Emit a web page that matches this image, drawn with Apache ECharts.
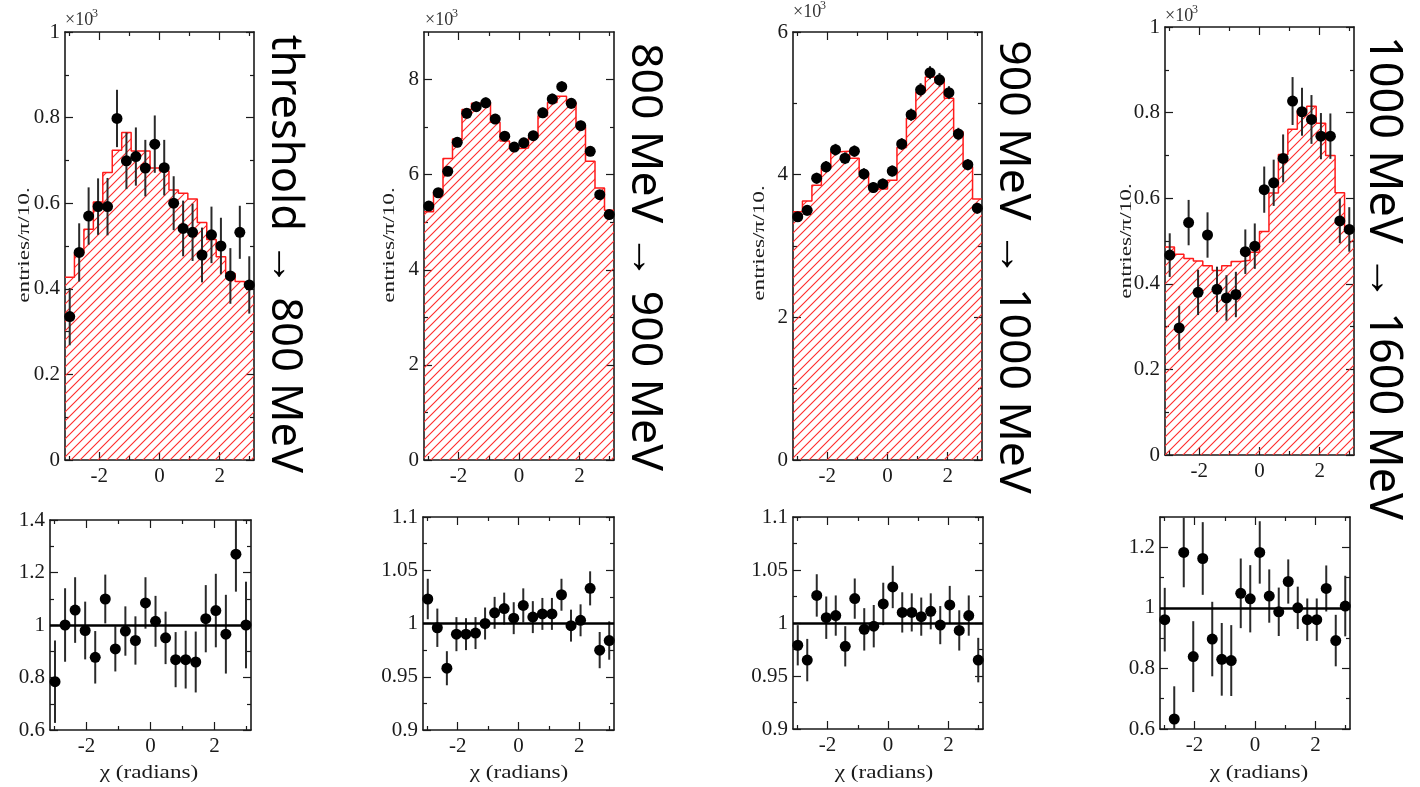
<!DOCTYPE html>
<html><head><meta charset="utf-8">
<script src="https://cdn.jsdelivr.net/npm/echarts@6/dist/echarts.min.js"></script>
<style>html,body{margin:0;padding:0;background:#fff}#c{width:1420px;height:787px}</style>
</head><body><div id="c"></div>
<script>
// ---------------- DATA ----------------
const titles = ['threshold \u2192 800 MeV', '800 MeV \u2192 900 MeV', '900 MeV \u2192 1000 MeV', '1000 MeV \u2192 1600 MeV'];
const yTitle = 'entries/\u03c0/10.';
const xTitle = '\u03c7 (radians)';

const xMajorTicks = [-2, 0, 2];
const xMinorTicks = [-3, -1, 1, 3];

const topYMax = [1, 9, 6, 1];
const topYMajor = [[0, 0.2, 0.4, 0.6, 0.8, 1], [0, 2, 4, 6, 8], [0, 2, 4, 6], [0, 0.2, 0.4, 0.6, 0.8, 1]];
const topYMinor = [[0.1, 0.3, 0.5, 0.7, 0.9], [1, 3, 5, 7], [1, 3, 5], [0.1, 0.3, 0.5, 0.7, 0.9]];
const botYMin = [0.6, 0.9, 0.9, 0.6];
const botYMax = [1.4, 1.1, 1.1, 1.3];
const botYMajor = [[0.6, 0.8, 1, 1.2, 1.4], [0.9, 0.95, 1, 1.05, 1.1], [0.9, 0.95, 1, 1.05, 1.1], [0.6, 0.8, 1, 1.2]];
const botYMinor = [[0.7, 0.9, 1.1, 1.3], [0.925, 0.975, 1.025, 1.075], [0.925, 0.975, 1.025, 1.075], [0.7, 0.9, 1.1, 1.3]];

// panel 1: threshold -> 800 MeV  (x10^3)
const p1Hist = [0.427,0.483,0.539,0.603,0.672,0.724,0.765,0.722,0.722,0.682,0.675,0.631,0.623,0.610,0.555,0.515,0.475,0.436,0.417,0.409];
const p1Data = [0.335,0.485,0.570,0.592,0.592,0.798,0.699,0.709,0.682,0.738,0.683,0.600,0.541,0.532,0.479,0.526,0.500,0.430,0.532,0.409];
const p1Err  = [0.067,0.068,0.067,0.066,0.067,0.067,0.066,0.068,0.066,0.067,0.065,0.063,0.065,0.067,0.064,0.066,0.066,0.065,0.062,0.067];
const p1Ratio    = [0.784,1.000,1.057,0.979,0.877,1.099,0.909,0.977,0.941,1.084,1.014,0.951,0.868,0.868,0.859,1.024,1.055,0.965,1.270,1.000];
const p1RatioErr = [0.157,0.140,0.125,0.110,0.100,0.093,0.086,0.094,0.092,0.098,0.097,0.100,0.105,0.110,0.116,0.128,0.140,0.150,0.143,0.165];

// panel 2: 800 -> 900 MeV
const p2Hist = [5.22,5.64,6.34,6.75,7.37,7.50,7.51,7.10,6.71,6.55,6.56,6.78,7.24,7.52,7.65,7.52,7.01,6.28,5.72,5.25];
const p2Data = [5.34,5.62,6.07,6.68,7.29,7.43,7.51,7.17,6.81,6.58,6.67,6.82,7.30,7.59,7.85,7.50,7.03,6.49,5.58,5.16];
const p2Err  = [0.097,0.100,0.098,0.105,0.110,0.112,0.113,0.107,0.100,0.098,0.105,0.100,0.110,0.113,0.115,0.113,0.105,0.100,0.097,0.095];
const p2Ratio    = [1.023,0.996,0.958,0.990,0.990,0.991,1.000,1.010,1.014,1.005,1.017,1.006,1.009,1.009,1.027,0.998,1.003,1.033,0.975,0.984];
const p2RatioErr = [0.019,0.018,0.016,0.016,0.015,0.015,0.015,0.015,0.015,0.015,0.016,0.015,0.015,0.015,0.015,0.015,0.015,0.016,0.017,0.018];

// panel 3: 900 -> 1000 MeV
const p3Hist = [3.48,3.63,3.85,4.09,4.32,4.33,4.23,4.03,3.83,3.80,3.92,4.38,4.79,5.16,5.37,5.34,5.07,4.60,4.11,3.66];
const p3Data = [3.41,3.50,3.95,4.11,4.35,4.23,4.33,4.01,3.82,3.87,4.05,4.43,4.84,5.19,5.43,5.33,5.15,4.57,4.14,3.53];
const p3Err  = [0.066,0.073,0.077,0.082,0.082,0.082,0.080,0.081,0.077,0.076,0.078,0.083,0.086,0.093,0.091,0.096,0.091,0.087,0.078,0.077];
const p3Ratio    = [0.979,0.965,1.026,1.005,1.007,0.978,1.023,0.994,0.997,1.018,1.034,1.010,1.010,1.006,1.011,0.998,1.017,0.993,1.007,0.965];
const p3RatioErr = [0.019,0.020,0.020,0.020,0.019,0.019,0.019,0.020,0.020,0.020,0.020,0.019,0.018,0.018,0.017,0.018,0.018,0.019,0.019,0.021];

// panel 4: 1000 -> 1600 MeV (x10^3)
const p4Hist = [0.486,0.469,0.459,0.453,0.442,0.431,0.442,0.452,0.455,0.474,0.522,0.612,0.702,0.761,0.805,0.815,0.775,0.700,0.613,0.524];
const p4Data = [0.467,0.297,0.543,0.380,0.514,0.387,0.367,0.375,0.475,0.488,0.620,0.636,0.693,0.827,0.802,0.784,0.745,0.745,0.547,0.527];
const p4Err  = [0.051,0.051,0.053,0.053,0.053,0.053,0.053,0.053,0.052,0.053,0.054,0.054,0.056,0.056,0.056,0.057,0.054,0.053,0.052,0.052];
const p4Ratio    = [0.961,0.633,1.183,0.839,1.163,0.897,0.830,0.826,1.048,1.030,1.183,1.039,0.987,1.087,1.000,0.961,0.961,1.064,0.892,1.006];
const p4RatioErr = [0.105,0.108,0.115,0.117,0.120,0.123,0.120,0.117,0.115,0.111,0.103,0.088,0.080,0.073,0.070,0.070,0.070,0.076,0.085,0.100];

// ---------------- BUILD ----------------
const PI = Math.PI;
const binEdges = Array.from({length: 21}, (_, i) => -PI + i * PI / 10);
const binCenters = binEdges.slice(0, 20).map((e, i) => (e + binEdges[i + 1]) / 2);

const panels = [
  {hist: p1Hist, data: p1Data, err: p1Err, ratio: p1Ratio, rerr: p1RatioErr},
  {hist: p2Hist, data: p2Data, err: p2Err, ratio: p2Ratio, rerr: p2RatioErr},
  {hist: p3Hist, data: p3Data, err: p3Err, ratio: p3Ratio, rerr: p3RatioErr},
  {hist: p4Hist, data: p4Data, err: p4Err, ratio: p4Ratio, rerr: p4RatioErr}
];

const topGrids = [
  {left: 65, top: 32, width: 189, height: 428},
  {left: 424, top: 32, width: 190, height: 428},
  {left: 793, top: 32, width: 189, height: 428},
  {left: 1165, top: 27, width: 189, height: 428}
];
const botGrids = [
  {left: 50, top: 520, width: 201, height: 210},
  {left: 423, top: 517, width: 191, height: 213},
  {left: 793, top: 517, width: 190, height: 212},
  {left: 1160, top: 517, width: 190, height: 212}
];
const yTitlePos = [[25, 245], [390, 245], [760, 243], [1127, 241]];
const xTitlePos = [[149, 773], [519, 773], [884, 773], [1259, 773]];
const titlePos = [[284, 254], [645, 257], [1013, 267], [1383, 278]];
const titleSize = [43.5, 44.5, 44.5, 45];
const expPos = [[65, 20], [425, 20], [793, 12], [1165, 16]];

function hatchCanvas() {
  const s = 9;
  const c = document.createElement('canvas');
  c.width = s; c.height = s;
  const g = c.getContext('2d');
  g.strokeStyle = '#ff2a2a';
  g.lineWidth = 1.1;
  g.beginPath();
  g.moveTo(-1, s + 1); g.lineTo(s + 1, -1);
  g.moveTo(-1, 1); g.lineTo(1, -1);
  g.moveTo(s - 1, s + 1); g.lineTo(s + 1, s - 1);
  g.stroke();
  return c;
}
const hatch = hatchCanvas();

const INK = '#1a1a1a';
const labelFont = {color: INK, fontFamily: 'Liberation Serif', fontSize: 21};

function makeAxes(dim, gridIndex, min, max, major, minor) {
  const posA = dim === 'x' ? 'bottom' : 'left';
  const posB = dim === 'x' ? 'top' : 'right';
  const out = [];
  [posA, posB].forEach((pos, k) => {
    const base = {gridIndex, type: 'value', position: pos, min, max,
      splitLine: {show: false}, axisPointer: {show: false}};
    const maj = Object.assign({}, base, {
      axisLine: {show: true, onZero: false, lineStyle: {color: INK, width: 1.6}},
      axisTick: {show: true, inside: true, length: 8, customValues: major, lineStyle: {color: INK, width: 1.2}},
      axisLabel: k === 0 ? Object.assign({show: true, customValues: major, margin: dim === 'x' ? 6 : 5}, labelFont) : {show: false}
    });
    const mnr = Object.assign({}, base, {
      axisLine: {show: false, onZero: false},
      axisTick: {show: true, inside: true, length: 4, customValues: minor, lineStyle: {color: INK, width: 1.2}},
      axisLabel: {show: false}
    });
    out.push(maj, mnr);
  });
  return out;
}

const grids = [], xAxes = [], yAxes = [], series = [];

function errRender(params, api) {
  const x = api.value(0);
  const a = api.coord([x, api.value(1)]);
  const b = api.coord([x, api.value(2)]);
  return {type: 'line', shape: {x1: a[0], y1: a[1], x2: b[0], y2: b[1]},
    style: {stroke: '#2a2a2a', lineWidth: 2}};
}

panels.forEach((p, i) => {
  // top panel
  let g = grids.length;
  grids.push(topGrids[i]);
  xAxes.push(...makeAxes('x', g, -PI, PI, xMajorTicks, xMinorTicks));
  yAxes.push(...makeAxes('y', g, 0, topYMax[i], topYMajor[i], topYMinor[i]));
  const ax = 4 * g;
  const histPts = binEdges.map((e, k) => [e, p.hist[Math.min(k, 19)]]);
  series.push({type: 'line', xAxisIndex: ax, yAxisIndex: ax, step: 'end', symbol: 'none', silent: true,
    data: histPts, lineStyle: {color: '#ff1a1a', width: 1.5},
    areaStyle: {color: {image: hatch, repeat: 'repeat'}, opacity: 1}, z: 2});
  series.push({type: 'custom', xAxisIndex: ax, yAxisIndex: ax, renderItem: errRender, clip: true, silent: true,
    encode: {x: 0, y: [1, 2]},
    data: binCenters.map((c, k) => [c, p.data[k] - p.err[k], p.data[k] + p.err[k]]), z: 3});
  series.push({type: 'scatter', xAxisIndex: ax, yAxisIndex: ax, symbol: 'circle', symbolSize: 11, silent: true,
    itemStyle: {color: '#000', opacity: 1}, data: binCenters.map((c, k) => [c, p.data[k]]), z: 4});

  // bottom panel
  g = grids.length;
  grids.push(botGrids[i]);
  xAxes.push(...makeAxes('x', g, -PI, PI, xMajorTicks, xMinorTicks));
  yAxes.push(...makeAxes('y', g, botYMin[i], botYMax[i], botYMajor[i], botYMinor[i]));
  const bx = 4 * g;
  series.push({type: 'custom', xAxisIndex: bx, yAxisIndex: bx, renderItem: errRender, clip: true, silent: true,
    encode: {x: 0, y: [1, 2]},
    data: binCenters.map((c, k) => [c, p.ratio[k] - p.rerr[k], p.ratio[k] + p.rerr[k]]), z: 3});
  series.push({type: 'scatter', xAxisIndex: bx, yAxisIndex: bx, symbol: 'circle', symbolSize: 11, silent: true,
    itemStyle: {color: '#000', opacity: 1}, data: binCenters.map((c, k) => [c, p.ratio[k]]), z: 4,
    markLine: {silent: true, symbol: 'none', animation: false, label: {show: false},
      lineStyle: {color: '#000', width: 2.5, type: 'solid'}, data: [{yAxis: 1}]}});
});

const graphic = [];
function txt(text, x, y, opt) {
  return Object.assign({type: 'text', x, y, silent: true,
    style: Object.assign({text, fill: '#1a1a1a', align: 'center', verticalAlign: 'middle',
      textAlign: 'center', textVerticalAlign: 'middle'}, opt.style)}, opt.el || {});
}
titles.forEach((t, i) => {
  graphic.push(txt(t, titlePos[i][0], titlePos[i][1],
    {el: {rotation: -PI / 2}, style: {fontFamily: 'Noto Sans', fontSize: titleSize[i], fill: '#000'}}));
  graphic.push(txt(yTitle, yTitlePos[i][0], yTitlePos[i][1],
    {el: {rotation: PI / 2, scaleX: 1.45}, style: {fontFamily: 'Liberation Serif', fontSize: 16}}));
  graphic.push(txt(xTitle, xTitlePos[i][0], xTitlePos[i][1],
    {el: {scaleX: 1.22}, style: {fontFamily: 'Liberation Serif', fontSize: 19}}));
  graphic.push(txt('\u00d710', expPos[i][0], expPos[i][1],
    {style: {fontFamily: 'Liberation Serif', fontSize: 18, fill: '#333', align: 'left', textAlign: 'left'}}));
  graphic.push(txt('3', expPos[i][0] + 27, expPos[i][1] - 6,
    {style: {fontFamily: 'Liberation Serif', fontSize: 12, fill: '#333', align: 'left', textAlign: 'left'}}));
});

const chart = echarts.init(document.getElementById('c'), null, {renderer: 'canvas'});
chart.setOption({
  animation: false,
  backgroundColor: '#fff',
  grid: grids,
  xAxis: xAxes,
  yAxis: yAxes,
  series: series,
  graphic: graphic
});
</script>
</body></html>
